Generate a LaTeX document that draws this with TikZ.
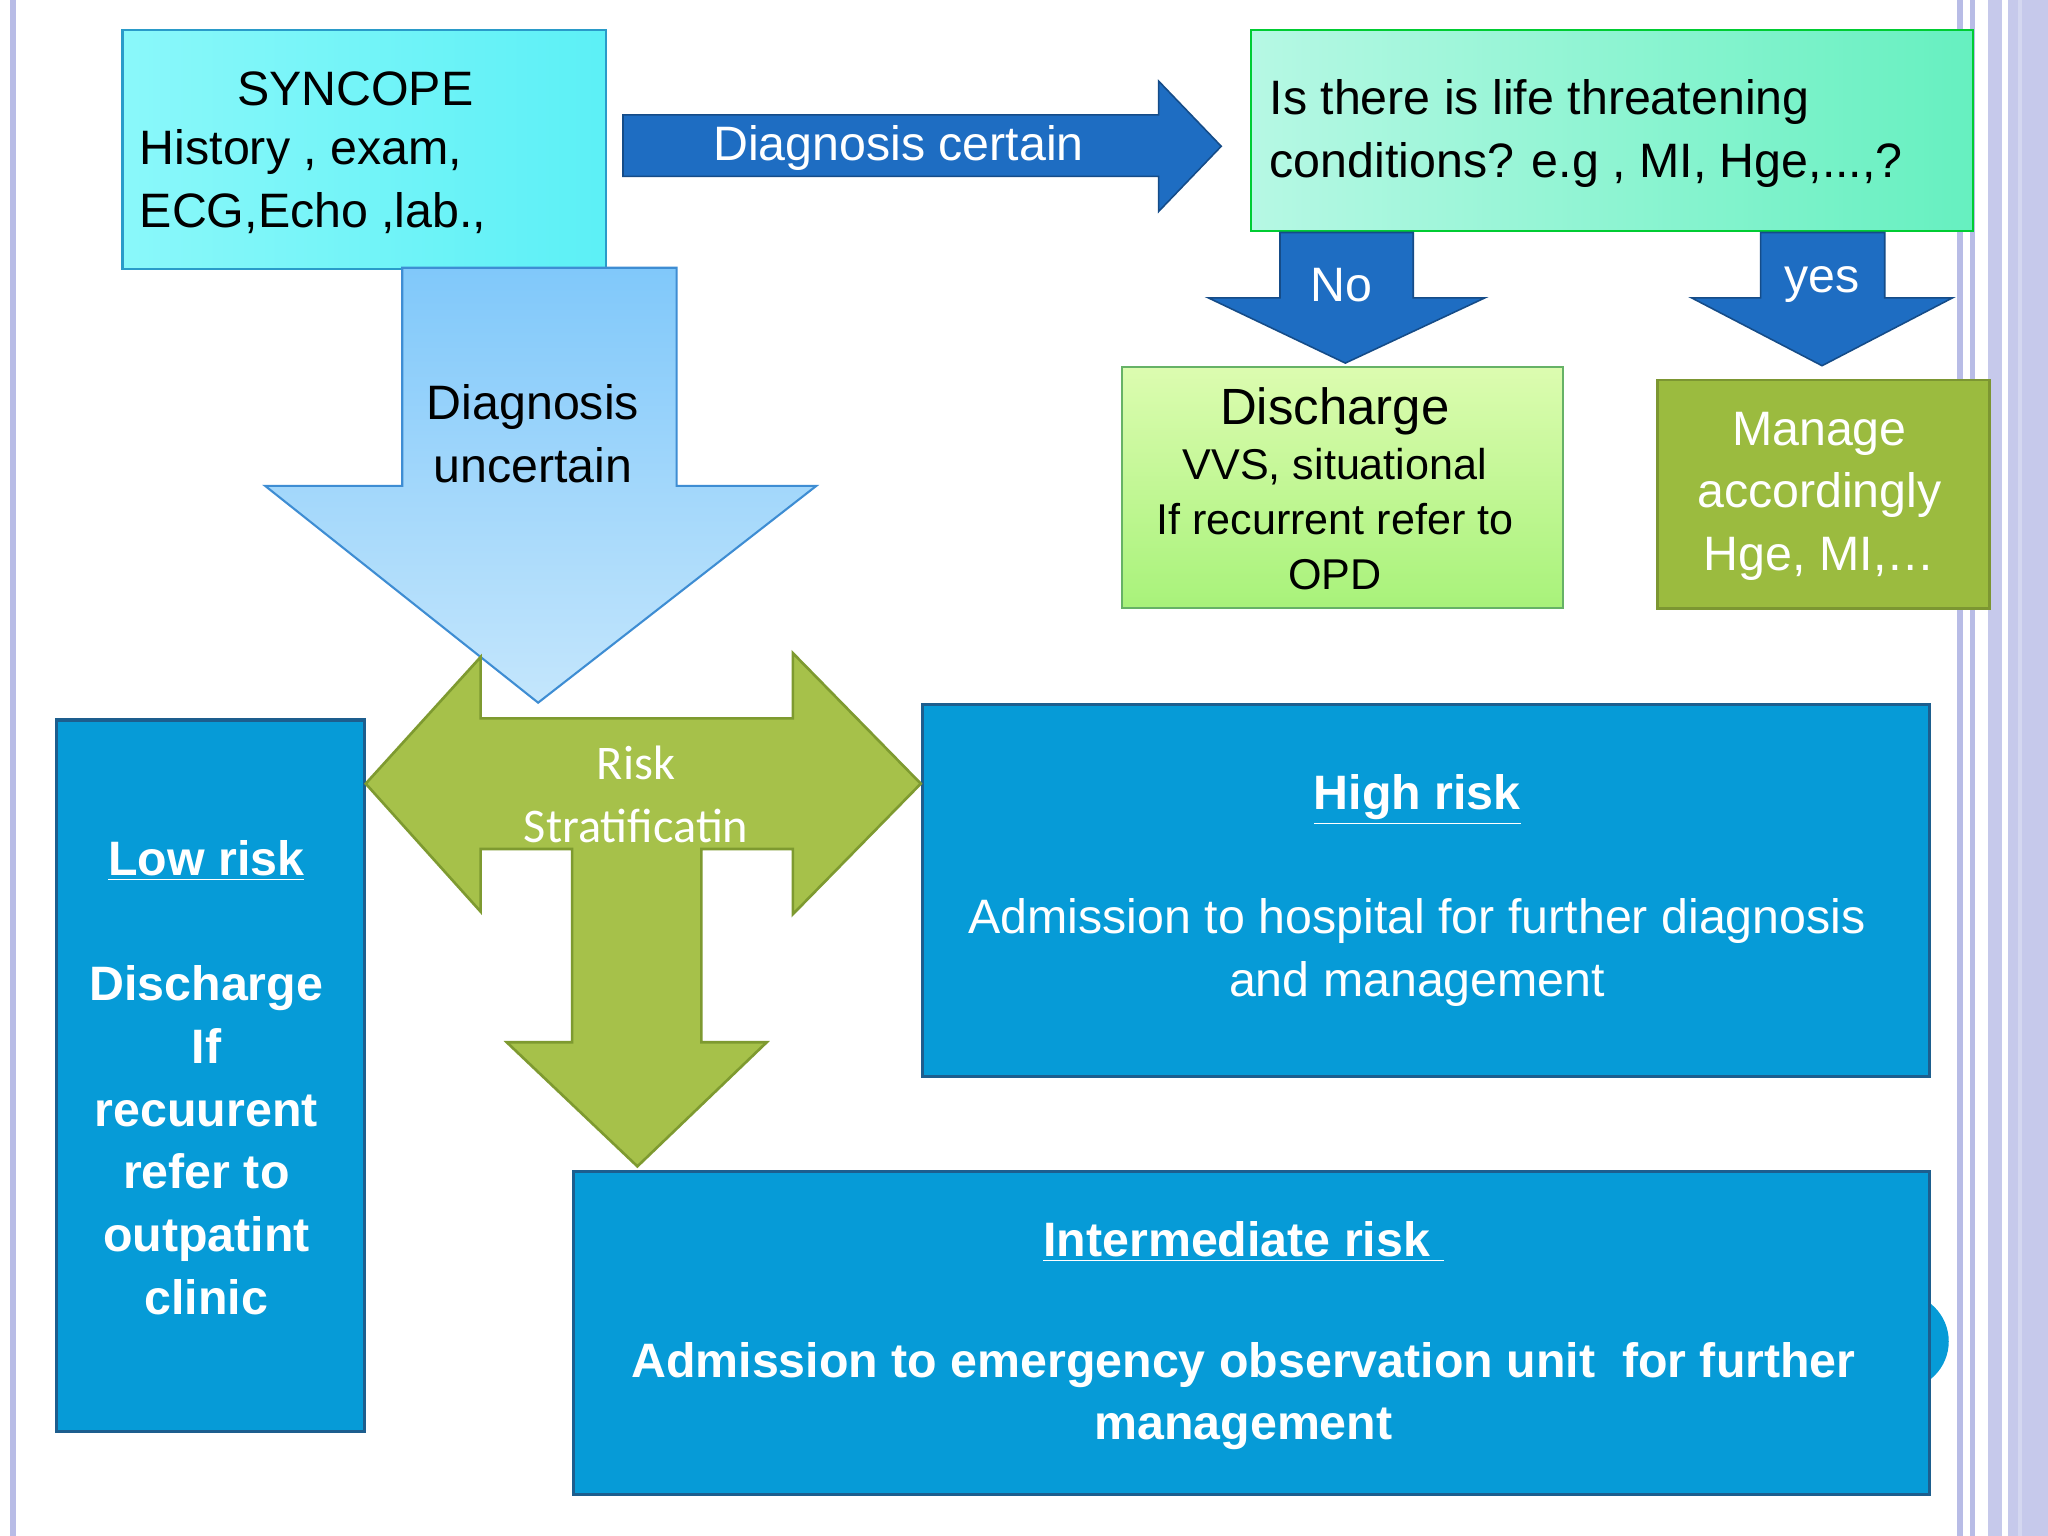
\documentclass[tikz,border=0pt]{standalone}
\usepackage{fontspec}
\setmainfont{Liberation Sans}
\newfontfamily\carl{Carlito}
\usetikzlibrary{shapes.geometric}
\definecolor{dblue}{HTML}{1E6DC2}
\definecolor{boxblue}{HTML}{069BD7}
\definecolor{boxedge}{HTML}{1D5E8E}
\definecolor{olive}{HTML}{9BBB3F}
\definecolor{cross}{HTML}{A6C14A}
\definecolor{crossedge}{HTML}{7E9A30}
\definecolor{lav}{HTML}{B8BCE6}
\definecolor{cy1}{HTML}{8AF8FA}
\definecolor{cy2}{HTML}{5CF0F6}
\definecolor{mt1}{HTML}{B6F8E4}
\definecolor{mt2}{HTML}{66F0C0}
\definecolor{gr1}{HTML}{DCFCB0}
\definecolor{gr2}{HTML}{A8F27A}
\definecolor{lb1}{HTML}{80C8FA}
\definecolor{lb2}{HTML}{C4E6FC}
\begin{document}
\begin{tikzpicture}[x=0.5pt,y=-0.5pt,
  txt/.style={align=center,font=\fontsize{18.5}{24}\selectfont},
  wtxt/.style={txt,text=white},
  bluebox/.style={fill=boxblue,draw=boxedge,line width=1.2pt},
  darrow/.style={fill=dblue,draw=dblue!70!black,line width=0.6pt}]
\useasboundingbox (0,0) rectangle (1568,1176);
\fill[white] (0,0) rectangle (1568,1176);
% side borders
\fill[lav] (8,0) rectangle (12,1176);
\fill[lav] (1498,0) rectangle (1503,1176);
\fill[lav] (1508,0) rectangle (1512,1176);
\fill[lav!80] (1522,0) rectangle (1568,1176);
\fill[white] (1533,0) rectangle (1537,1176);
\fill[lav!60!white] (1545,0) rectangle (1548,1176);
% SYNCOPE box
\node[draw=cyan!60!teal,line width=0.8pt,left color=cy1,right color=cy2,minimum width=185pt,minimum height=91.5pt,anchor=north west,inner sep=0] (syn) at (93,22) {};
\node[txt] (synh) at (272,68) {SYNCOPE};
\node[txt,anchor=north west,align=left] (syntxt) at (100,92) {History , exam,\\ECG,Echo ,lab.,};
% Diagnosis certain arrow
\draw[darrow] (477,88) -- (887,88) -- (887,62) -- (935,112) -- (887,162) -- (887,135) -- (477,135) -- cycle;
\node[wtxt] (dc) at (688,113) {Diagnosis certain};
% top right box
\node[draw=green!60!teal,line width=0.8pt,left color=mt1,right color=mt2,minimum width=276.5pt,minimum height=77pt,anchor=north west,inner sep=0] (q) at (957,22) {};
\node[txt,anchor=north west,align=left] (qt) at (965,54) {Is there is life threatening\\conditions? e.g , MI, Hge,...,?};
% No arrow
\draw[darrow] (980,178) -- (1082,178) -- (1082,228) -- (1137,228) -- (1030,278) -- (925,228) -- (980,228) -- cycle;
\node[wtxt] (no) at (1027,218) {No};
\draw[darrow] (1348,178) -- (1443,178) -- (1443,228) -- (1495,228) -- (1395,280) -- (1295,228) -- (1348,228) -- cycle;
\node[wtxt] (yes) at (1395,218) {yes};
% Discharge box
\node[draw=green!50!black!60,line width=0.8pt,top color=gr1,bottom color=gr2,minimum width=169pt,minimum height=92.5pt,anchor=north west,inner sep=0] (dis) at (858,280) {};
\node[align=center,font=\fontsize{16.5}{21}\selectfont] (dist) at (1022,374) {{\fontsize{19.5}{23}\selectfont Discharge}\\VVS, situational\\If recurrent refer to\\OPD};
% Manage box
\node[fill=olive,draw=olive!80!black,line width=1pt,minimum width=127pt,minimum height=87.5pt,anchor=north west,inner sep=0] (man) at (1268,290) {};
\node[wtxt] (mant) at (1393,380) {Manage\\accordingly\\Hge, MI,\dots};
% big down arrow
\draw[top color=lb1,bottom color=lb2,draw=cyan!60!blue!80,line width=0.8pt]
 (308,205) -- (518,205) -- (518,372) -- (625,372) -- (412,538) -- (203,372) -- (308,372) -- cycle;
\node[txt] (du) at (408,332) {Diagnosis\\uncertain};
% Low risk box
\node[bluebox,minimum width=118pt,minimum height=272.5pt,anchor=north west,inner sep=0] (low) at (42,550) {};
\node[wtxt,font=\bfseries\fontsize{18.5}{24}\selectfont] (lowt) at (158,825) {\underline{Low risk}\\[24pt]Discharge\\If\\recuurent\\refer to\\outpatint\\clinic};
% high risk box
\node[bluebox,minimum width=385.5pt,minimum height=142.5pt,anchor=north west,inner sep=0] (high) at (705,538) {};
\node[wtxt,font=\bfseries\fontsize{18.5}{24}\selectfont] (hight) at (1085,612) {\underline{High risk}};
\node[wtxt] (hight2) at (1085,729) {Admission to hospital for further diagnosis\\and management};
% circle + intermediate
\fill[boxblue] (1455,1027) circle (37);
\node[bluebox,minimum width=519pt,minimum height=123.5pt,anchor=north west,inner sep=0] (inter) at (438,896) {};
\node[wtxt,font=\bfseries\fontsize{18.5}{24}\selectfont] (intt) at (952,951) {\underline{Intermediate risk\ }};
\node[wtxt,font=\bfseries\fontsize{18.5}{24}\selectfont] (intt2) at (952,1069) {Admission to emergency observation unit\ \ for further\\management};
% green cross arrow
\draw[fill=cross,draw=crossedge,line width=1pt] (280,600) -- (368,503) -- (368,550) -- (607,550) -- (607,500) -- (705,600) -- (607,700) -- (607,650) -- (537,650) -- (537,798) -- (587,798) -- (488,893) -- (388,798) -- (438,798) -- (438,650) -- (368,650) -- (368,698) -- cycle;
\node[wtxt,font=\carl\fontsize{18.5}{24}\selectfont] (risk) at (487,608) {Risk\\Stratificatin};
\end{tikzpicture}
\end{document}
